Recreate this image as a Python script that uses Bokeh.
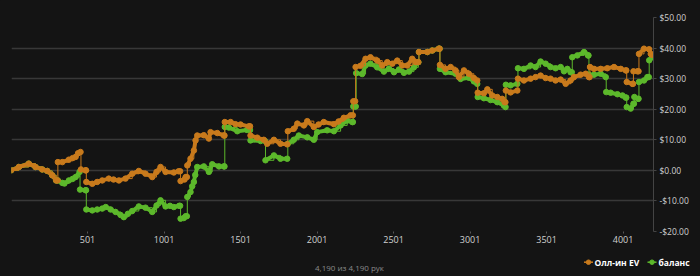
from bokeh.plotting import figure
from bokeh.layouts import column
from bokeh.models import Range1d, FixedTicker, NumeralTickFormatter, Label
from bokeh.embed import file_html
from bokeh.resources import INLINE

# All-in EV series (hand number, dollars)
ev_hands = [1, 52, 117, 161, 205, 238, 270, 296, 305, 307, 336, 379, 403, 423, 439, 455, 458, 488, 491, 493,
            532, 564, 597, 640, 671, 706, 749, 793, 836, 880, 924, 952, 978, 1011, 1065, 1096, 1106, 1109,
            1135, 1142, 1150, 1153, 1174, 1196, 1207, 1218, 1261, 1294, 1305, 1349, 1392, 1396, 1398, 1436, 1468,
            1501, 1555, 1563, 1566, 1610, 1653, 1675, 1719, 1762, 1806, 1810, 1849, 1872, 1915, 1937, 1980,
            2011, 2045, 2111, 2142, 2176, 2220, 2235, 2238, 2250, 2253, 2285, 2318, 2350, 2394, 2427, 2460,
            2493, 2525, 2558, 2591, 2623, 2645, 2663, 2667, 2722, 2754, 2797, 2802, 2804, 2841, 2874, 2906, 2928,
            2961, 2993, 3026, 3048, 3051, 3091, 3114, 3146, 3179, 3211, 3227, 3232, 3235, 3266, 3310, 3314,
            3353, 3397, 3429, 3462, 3495, 3527, 3560, 3593, 3626, 3658, 3680, 3724, 3757, 3778, 3782, 3785,
            3811, 3855, 3898, 3942, 3986, 4019, 4022, 4025, 4062, 4066, 4069, 4095, 4102, 4105, 4138, 4171, 4182, 4190]
ev_values = [0.0, 1.1, 2.2, 1.1, 0.3, -0.2, -1.6, -3.3, -3.3, 2.7, 2.7, 3.5, 4.0, 4.4, 5.6, 6.0, 0.3, 0.0, 0.0, -3.8,
             -4.4, -3.8, -3.3, -2.7, -3.0, -3.3, -2.7, -1.1, -0.2, -1.1, -2.2, -0.5, 1.1, -0.5, -0.7, -0.3, -0.3, -3.5,
             -3.0, -2.2, -2.2, 1.6, 3.8, 6.5, 9.8, 11.4, 11.5, 10.4, 12.5, 12.2, 11.4, 11.4, 15.8, 15.8, 15.1,
             15.0, 14.4, 14.4, 11.4, 10.7, 10.0, 8.7, 10.0, 8.7, 8.5, 12.8, 13.6, 15.3, 14.7, 16.1, 14.2,
             15.0, 15.8, 15.1, 16.0, 17.2, 18.0, 18.0, 22.6, 22.6, 33.8, 34.2, 36.5, 37.0, 35.9, 34.3, 35.4,
             34.9, 35.9, 34.3, 34.3, 36.5, 35.4, 35.4, 38.7, 38.7, 39.2, 39.8, 39.8, 34.5, 33.2, 33.8, 32.7, 30.5,
             32.7, 31.6, 30.2, 29.4, 25.4, 25.2, 26.5, 24.5, 24.0, 23.4, 22.3, 22.3, 26.1, 25.5, 26.1, 30.0,
             29.4, 30.0, 30.5, 31.0, 30.2, 30.0, 29.4, 29.7, 28.3, 29.4, 30.5, 31.3, 31.6, 30.5, 30.5, 33.8,
             33.2, 33.2, 33.4, 33.8, 33.2, 32.7, 32.7, 28.9, 28.3, 28.3, 32.4, 32.4, 32.4, 38.1, 39.8, 39.6, 38.1, 37.8]

# Balance series (hand number, dollars)
bal_hands = [1, 52, 117, 161, 205, 238, 270, 296, 307, 336, 350, 379, 403, 423, 449, 452, 488, 491, 493,
             532, 564, 597, 620, 652, 684, 717, 738, 765, 793, 836, 880, 924, 952, 978, 1011, 1040,
             1065, 1100, 1106, 1109, 1130, 1142, 1150, 1153, 1174, 1185, 1196, 1205, 1218, 1261, 1294, 1316, 1360,
             1392, 1396, 1398, 1425, 1480, 1544, 1563, 1566, 1632, 1661, 1664, 1719, 1762, 1806, 1810, 1849, 1882, 1937,
             1980, 2002, 2067, 2111, 2155, 2198, 2231, 2235, 2238, 2250, 2254, 2257, 2296, 2318, 2350, 2394, 2438,
             2471, 2504, 2536, 2569, 2602, 2634, 2663, 2667, 2722, 2754, 2797, 2802, 2804, 2841, 2906, 2939,
             2993, 3026, 3048, 3051, 3091, 3135, 3179, 3222, 3233, 3235, 3266, 3310, 3314, 3353, 3397,
             3429, 3462, 3495, 3527, 3560, 3593, 3615, 3637, 3658, 3666, 3669, 3702, 3746, 3772, 3775, 3778, 3811,
             3855, 3888, 3891, 3920, 3964, 3997, 4019, 4022, 4025, 4051, 4069, 4072, 4075, 4099, 4102, 4105, 4138, 4160,
             4169, 4172, 4190]
bal_values = [0.0, 1.1, 2.2, 1.1, 0.3, -0.2, -1.6, -3.3, -3.3, -4.1, -4.3, -3.3, -2.8, -2.2, -0.5, -6.3, -6.5, -6.5, -12.8,
              -13.1, -12.8, -12.5, -12.0, -12.8, -13.6, -14.6, -15.3, -14.2, -13.3, -11.8, -12.2, -13.6, -11.5, -9.8, -11.8, -11.6,
              -12.0, -11.6, -11.6, -15.8, -15.6, -15.0, -15.0, -8.7, -7.1, -5.2, -3.8, -1.5, 1.1, 1.3, -0.5, 2.0, 1.3,
              1.3, 1.3, 14.2, 14.0, 12.8, 13.2, 13.2, 9.8, 9.6, 9.6, 3.3, 4.9, 3.8, 3.8, 8.7, 10.0, 11.4, 10.8,
              10.0, 12.5, 13.1, 12.8, 14.7, 16.3, 15.8, 15.8, 20.9, 20.9, 20.9, 31.8, 31.5, 34.3, 34.9, 33.7, 32.3,
              33.3, 32.1, 33.0, 31.9, 32.3, 33.7, 35.4, 38.7, 38.7, 39.2, 39.8, 39.8, 33.2, 32.1, 31.6, 29.9,
              30.3, 29.1, 28.3, 24.0, 23.6, 23.0, 22.3, 21.2, 20.7, 28.0, 27.8, 28.3, 33.4, 33.2, 34.3,
              33.8, 35.6, 34.9, 33.8, 33.4, 33.8, 32.4, 33.2, 32.1, 32.1, 37.0, 37.6, 38.7, 37.6, 37.6, 31.3, 31.3,
              31.6, 30.5, 25.6, 25.4, 24.9, 24.5, 23.8, 23.8, 20.7, 20.2, 21.8, 21.8, 24.0, 23.4, 23.4, 28.9, 29.4, 30.5,
              30.5, 36.0, 37.0]

x_ticks = [501, 1001, 1501, 2001, 2501, 3001, 3501, 4001]
y_ticks = [-20, -10, 0, 10, 20, 30, 40, 50]
series_names = ["Олл-ин EV", "баланс"]
footer_text = "4,190 из 4,190 рук"

ORANGE = "#c87a1c"
GREEN = "#5cb82b"
BG = "#141414"
FONT = "Open Sans"


def runs(xs, ys):
    """Pairs of consecutive points drawn as a continuous band (jumps excluded)."""
    x0, y0, x1, y1 = [], [], [], []
    for i in range(len(xs) - 1):
        if xs[i + 1] - xs[i] > 4:
            x0.append(xs[i]); y0.append(ys[i]); x1.append(xs[i + 1]); y1.append(ys[i + 1])
    return x0, y0, x1, y1


p = figure(width=700, height=250, output_backend="svg", toolbar_location=None,
           x_range=Range1d(4, 4200), y_range=Range1d(-20, 50),
           y_axis_location="right",
           background_fill_color=BG, border_fill_color=BG, outline_line_color=None,
           min_border_left=11, min_border_right=47, min_border_top=17, min_border_bottom=19)

for xs, ys, col in [(bal_hands, bal_values, GREEN), (ev_hands, ev_values, ORANGE)]:
    p.step(xs, ys, mode="after", line_color=col, line_width=1)
    a, b, c, d = runs(xs, ys)
    p.segment(a, b, c, d, line_color=col, line_width=4, line_cap="round")
    p.scatter(xs, ys, size=5.5, fill_color=col, line_color=col)

p.xgrid.visible = False
p.ygrid.ticker = FixedTicker(ticks=y_ticks)
p.ygrid.grid_line_color = "#383838"
p.ygrid.grid_line_width = 1.5

xa = p.xaxis[0]
xa.ticker = FixedTicker(ticks=x_ticks)
xa.axis_line_color = None
xa.major_tick_line_color = "#555555"
xa.major_tick_in = 0
xa.major_tick_out = 2
xa.minor_tick_line_color = None
xa.major_label_standoff = 2
xa.major_label_text_color = "#d0d0d0"
xa.major_label_text_font = FONT
xa.major_label_text_font_size = "9px"

ya = p.yaxis[0]
ya.ticker = FixedTicker(ticks=y_ticks)
ya.formatter = NumeralTickFormatter(format="$0.00")
ya.axis_line_color = "#444444"
ya.major_tick_line_color = "#444444"
ya.major_tick_in = 0
ya.major_tick_out = 3
ya.minor_tick_line_color = None
ya.major_label_standoff = 3
ya.major_label_text_color = "#d0d0d0"
ya.major_label_text_font = FONT
ya.major_label_text_font_size = "8.5px"

# Bottom strip: hands counter and legend (pixel coordinate space)
q = figure(frame_width=700, frame_height=26, output_backend="svg", toolbar_location=None,
           x_range=Range1d(10, 710), y_range=Range1d(0, 26),
           x_axis_type=None, y_axis_type=None,
           background_fill_color=BG, border_fill_color=BG, outline_line_color=None,
           min_border_left=0, min_border_right=0, min_border_top=0, min_border_bottom=0)
q.grid.visible = False

legend_colors = [ORANGE, GREEN]
legend_icon_x = [587, 650.5]
legend_text_x = [593, 657]
legend_y = 14.3
q.segment([x - 4.5 for x in legend_icon_x], [legend_y] * 2, [x + 4.5 for x in legend_icon_x], [legend_y] * 2,
          line_color=legend_colors, line_width=1.5)
q.scatter(legend_icon_x, [legend_y] * 2, size=4.5, fill_color=legend_colors, line_color=legend_colors)
for name, tx in zip(series_names, legend_text_x):
    q.add_layout(Label(x=tx, y=legend_y, text=name, text_align="left", text_baseline="middle",
                       text_color="#ffffff", text_font=FONT, text_font_style="bold",
                       text_font_size="8.5px"))

q.add_layout(Label(x=348, y=8.7, text=footer_text,
                   text_align="center", text_baseline="middle", text_color="#8a8a8a",
                   text_font=FONT, text_font_size="8px"))

layout = column(p, q, spacing=0, background=BG)
open("out.html", "w").write(file_html(layout, INLINE))
